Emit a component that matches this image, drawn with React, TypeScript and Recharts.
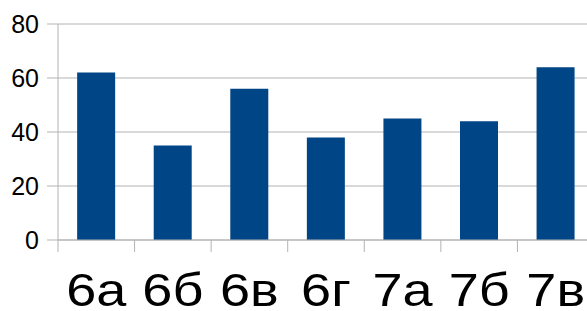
import React from "react";
import { BarChart, Bar, XAxis, YAxis, CartesianGrid } from "recharts";

const categories = ["6а", "6б", "6в", "6г", "7а", "7б", "7в"];
const values = [62, 35, 56, 38, 45, 44, 64];
const yTicks = [0, 20, 40, 60, 80];

const data = categories.map((c, i) => ({ name: c, value: values[i] }));

const CHART_W = 600;
const CHART_H = 311;
const LEFT = 58;
const RIGHT_MARGIN = 6;
const PLOT_W = CHART_W - LEFT - RIGHT_MARGIN;
const BAND = PLOT_W / categories.length;
const FONT = "'Liberation Sans', Arial, sans-serif";

const XTick = (props: any) => {
  const { x, y, payload } = props;
  const left = x - BAND / 2;
  return (
    <g>
      <line x1={left} y1={240} x2={left} y2={252} stroke="#b3b3b3" strokeWidth={1} />
      <text
        transform={`translate(${x},${y + 54}) scale(1.15,1)`}
        x={0}
        y={0}
        textAnchor="middle"
        fill="#000"
        fontSize={47}
        fontFamily={FONT}
      >
        {payload.value}
      </text>
    </g>
  );
};

export default function App() {
  return (
    <div
      style={{
        position: "fixed",
        left: 0,
        top: 0,
        width: 587,
        height: 311,
        overflow: "hidden",
        background: "#fff",
      }}
    >
      <BarChart
        width={CHART_W}
        height={CHART_H}
        data={data}
        margin={{ top: 24, right: RIGHT_MARGIN, bottom: 0, left: 0 }}
        barCategoryGap="25%"
      >
        <CartesianGrid vertical={false} stroke="#b3b3b3" strokeWidth={1} />
        <XAxis
          dataKey="name"
          height={71}
          axisLine={{ stroke: "#b3b3b3" }}
          tickLine={false}
          tickSize={12}
          tickMargin={0}
          tick={<XTick />}
          interval={0}
        />
        <YAxis
          width={LEFT}
          domain={[0, 80]}
          ticks={yTicks}
          axisLine={{ stroke: "#b3b3b3" }}
          tickLine={{ stroke: "#b3b3b3" }}
          tickSize={11}
          tickMargin={8}
          tick={{ fill: "#000", fontSize: 25, fontFamily: FONT }}
          interval={0}
        />
        <Bar dataKey="value" fill="#004586" isAnimationActive={false} />
      </BarChart>
    </div>
  );
}
